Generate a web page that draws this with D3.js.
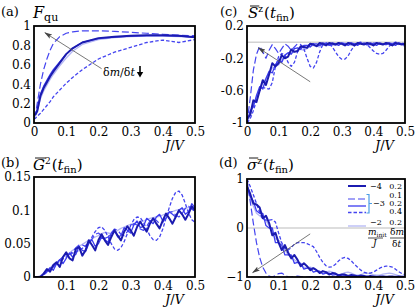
<!DOCTYPE html>
<html>
<head>
<meta charset="utf-8">
<script src="https://cdn.jsdelivr.net/npm/d3@7"></script>
<style>
  body { margin: 0; background: #fff; }
  svg text { font-family: "DejaVu Serif", serif; fill: #000; }
</style>
</head>
<body>
<svg id="chart" width="415" height="308"></svg>
<script>
// J/V grid for panels b, c, d
const jGrid = [0,.01,.02,.03,.04,.05,.06,.07,.08,.09,
  .1,.11,.12,.13,.14,.15,.16,.17,.18,.19,
  .2,.21,.22,.23,.24,.25,.26,.27,.28,.29,
  .3,.31,.32,.33,.34,.35,.36,.37,.38,.39,
  .4,.41,.42,.43,.44,.45,.46,.47,.48,.49,.5]

// panel (a) is smooth, coarser grid
const aJ = [0,.005,.01,.02,.03,.04,.05,.06,.08,.1,.12,.15,.2,.25,.3,.35,.4,.45,.5]
const aThick = [.09,.09,.12,.28,.36,.42,.48,.53,.62,.71,.77,.83,.875,.89,.9,.905,.905,.9,.885]
const aMid   = [.08,.1,.14,.3,.38,.44,.5,.55,.63,.71,.77,.83,.87,.885,.895,.9,.9,.895,.885]
const aLight = [.06,.08,.12,.25,.33,.39,.45,.5,.59,.67,.74,.81,.86,.88,.89,.895,.895,.89,.885]
const aDash  = [.05,.1,.2,.4,.55,.66,.75,.82,.89,.925,.94,.95,.95,.945,.935,.925,.915,.905,.9]
const aDot   = [.04,.05,.07,.1,.14,.18,.22,.27,.34,.41,.47,.55,.66,.73,.78,.83,.855,.83,.86]

// panel (b) G^2
const bThick = [0,0,0,.005,.012,.008,.018,.022,.015,.03,
  .037,.028,.025,.042,.045,.032,.04,.055,.048,.04,
  .055,.064,.055,.048,.06,.07,.062,.055,.068,.076,
  .07,.062,.075,.083,.075,.068,.08,.088,.08,.073,
  .085,.095,.088,.08,.09,.1,.094,.086,.095,.106,.1]
const bMid = [0,0,0,.004,.008,.014,.01,.02,.026,.02,
  .028,.036,.03,.034,.046,.04,.038,.05,.056,.046,
  .05,.06,.056,.052,.066,.07,.06,.062,.074,.07,
  .066,.078,.084,.074,.076,.088,.084,.08,.09,.094,
  .084,.088,.098,.094,.09,.1,.104,.094,.098,.11,.104]
const bLight = [0,0,.002,.006,.01,.014,.018,.022,.026,.03,
  .033,.036,.04,.043,.046,.049,.052,.055,.057,.06,
  .062,.065,.067,.066,.065,.067,.07,.073,.075,.077,
  .079,.08,.082,.083,.084,.086,.088,.089,.09,.091,
  .093,.095,.097,.098,.1,.101,.102,.103,.104,.105,.106]
const bDash = [0,0,.001,.004,.008,.012,.015,.02,.026,.03,
  .032,.034,.038,.044,.048,.048,.046,.05,.057,.064,
  .066,.062,.058,.06,.066,.072,.07,.064,.062,.068,
  .075,.08,.078,.072,.07,.076,.084,.088,.085,.08,
  .082,.09,.097,.098,.093,.09,.095,.103,.106,.102,.098]
const bDot = [0,0,0,.003,.007,.012,.016,.02,.024,.027,
  .03,.033,.036,.038,.04,.043,.047,.052,.06,.068,
  .074,.075,.07,.06,.05,.042,.04,.044,.053,.065,
  .077,.086,.09,.089,.082,.072,.062,.056,.055,.06,
  .072,.088,.104,.118,.127,.129,.123,.11,.096,.086,.082]

// panel (c) S^z
const cThick = [-.95,-.9,-.72,-.74,-.6,-.47,-.53,-.4,-.26,-.3,
  -.26,-.16,-.2,-.18,-.09,-.12,-.11,-.05,-.06,-.07,
  -.02,-.03,-.05,-.01,-.02,-.04,-.01,-.02,-.03,-.01,
  -.02,-.04,-.01,-.02,-.04,-.01,-.02,-.03,-.01,-.02,
  -.04,-.01,-.02,-.03,-.01,-.02,-.04,-.01,-.02,-.03,-.02]
const cMid = [-.98,-.85,-.8,-.66,-.55,-.58,-.45,-.36,-.38,-.28,
  -.22,-.25,-.16,-.13,-.15,-.08,-.07,-.09,-.04,-.04,
  -.06,-.02,-.02,-.04,-.01,-.02,-.04,-.01,-.02,-.04,
  -.01,-.02,-.04,-.01,-.02,-.04,-.01,-.02,-.03,-.01,
  -.02,-.04,-.01,-.02,-.03,-.01,-.02,-.04,-.01,-.02,-.03]
const cLight = [-1,-.9,-.78,-.68,-.6,-.5,-.45,-.38,-.32,-.3,
  -.28,-.22,-.16,-.14,-.14,-.12,-.1,-.09,-.1,-.08,
  -.05,-.04,-.05,-.06,-.04,-.02,-.02,-.03,-.04,-.03,
  -.01,-.01,-.03,-.04,-.03,-.01,-.01,-.02,-.04,-.03,
  -.02,-.01,-.02,-.03,-.03,-.02,-.01,-.02,-.03,-.02,-.02]
const cDash = [-1,-.7,-.35,-.15,-.05,-.12,-.2,-.1,-.03,-.08,
  -.14,-.08,-.02,-.05,-.1,-.06,-.02,-.03,-.07,-.05,
  -.02,-.02,-.05,-.04,-.02,-.01,-.03,-.04,-.02,-.01,
  -.02,-.03,-.01,-.01,-.02,-.03,-.01,-.01,-.02,-.03,
  -.01,-.01,-.02,-.03,-.01,-.01,-.02,-.02,-.01,-.01,-.02]
const cDot = [-1,-.95,-.85,-.72,-.6,-.56,-.57,-.58,-.5,-.3,
  -.18,-.14,-.16,-.25,-.3,-.25,-.12,-.06,-.08,-.2,
  -.3,-.32,-.25,-.12,-.03,-.01,-.02,-.06,-.12,-.18,
  -.21,-.21,-.17,-.1,-.04,-.01,0,-.01,-.03,-.07,
  -.11,-.14,-.15,-.14,-.1,-.05,-.02,0,-.01,-.03,-.05]

// panel (d) sigma^z
const dThick = [.85,.7,.5,.48,.42,.2,.25,.1,-.15,-.1,
  -.3,-.45,-.35,-.5,-.62,-.55,-.65,-.78,-.72,-.78,
  -.86,-.82,-.86,-.92,-.88,-.9,-.95,-.92,-.93,-.97,
  -.95,-.95,-.98,-.96,-.97,-.99,-.97,-.98,-1,-.98,
  -.99,-1,-.99,-.99,-1,-.99,-.99,-1,-.99,-1,-1]
const dMid = [.9,.65,.55,.35,.3,.3,.05,0,0,-.3,
  -.3,-.35,-.55,-.55,-.55,-.72,-.7,-.72,-.84,-.82,
  -.82,-.9,-.88,-.88,-.94,-.92,-.92,-.96,-.95,-.95,
  -.98,-.97,-.97,-.99,-.98,-.98,-.99,-.99,-.98,-1,
  -.99,-.99,-1,-.99,-.99,-1,-1,-.99,-1,-1,-1]
const dLight = [.85,.6,.45,.3,.25,.2,.15,.05,-.1,-.22,
  -.25,-.3,-.45,-.55,-.6,-.65,-.7,-.75,-.8,-.82,
  -.8,-.82,-.86,-.9,-.92,-.9,-.88,-.9,-.93,-.95,
  -.94,-.91,-.9,-.92,-.95,-.96,-.95,-.93,-.92,-.93,
  -.95,-.96,-.96,-.94,-.93,-.92,-.93,-.95,-.97,-.97,-.96]
const dDash = [1,.55,.1,-.3,-.6,-.8,-.92,-.98,-1,-.97,
  -.93,-.92,-.96,-1,-1,-.99,-.98,-.99,-1,-1,
  -.99,-.99,-1,-1,-.99,-1,-1,-1,-.99,-1,
  -1,-1,-.99,-1,-1,-1,-1,-.99,-1,-1,
  -1,-1,-1,-.99,-1,-1,-1,-1,-1,-1,-1]
const dDot = [1,.85,.68,.5,.32,.18,.16,.16,.17,.12,
  -.1,-.3,-.42,-.45,-.4,-.33,-.3,-.3,-.3,-.32,
  -.35,-.38,-.48,-.6,-.7,-.77,-.8,-.79,-.74,-.67,
  -.62,-.6,-.62,-.67,-.74,-.8,-.86,-.9,-.92,-.92,
  -.9,-.86,-.82,-.79,-.78,-.78,-.8,-.84,-.89,-.93,-.95]

// legend entries (m_init/J, dm/dt)
const legendTop = ['\u22124', '0.2']
const legendGroupMinit = '\u22123'
const legendGroupRates = ['0.1', '0.2', '0.4']
const legendBottom = ['\u22122', '0.2']

const styles = {
  thick: { stroke: '#1b1bb0', width: 2, dash: null },
  mid:   { stroke: '#3c3cf0', width: 1.3, dash: null },
  light: { stroke: '#b4b6f4', width: 1.3, dash: null },
  dash:  { stroke: '#4444f0', width: 1.2, dash: '7,3' },
  dot:   { stroke: '#4444f0', width: 1.3, dash: '3.5,2' }
}

const svg = d3.select('#chart')

svg.append('defs').append('marker')
  .attr('id', 'head').attr('viewBox', '0 0 10 6')
  .attr('refX', 9).attr('refY', 3)
  .attr('markerWidth', 8).attr('markerHeight', 5)
  .attr('orient', 'auto').attr('markerUnits', 'userSpaceOnUse')
  .append('path').attr('d', 'M0,0 L10,3 L0,6 L2,3 Z').attr('fill', '#444')

function richText (g, x, y, parts) {
  let cx = x
  parts.forEach(p => {
    const t = g.append('text')
      .attr('x', cx).attr('y', y + (p.dy || 0))
      .attr('font-size', p.size)
      .attr('font-style', p.italic ? 'italic' : 'normal')
      .text(p.t)
    const w = t.node().getComputedTextLength()
    if (p.over) {
      g.append('line')
        .attr('x1', cx + 2).attr('x2', cx + w + 1)
        .attr('y1', y - p.size * 0.8).attr('y2', y - p.size * 0.8)
        .attr('stroke', '#000').attr('stroke-width', 0.9)
    }
    cx += w + (p.gap || 0)
  })
}

let clipId = 0

function panel (o) {
  const x = d3.scaleLinear().domain([0, 0.5]).range([o.left, o.right])
  const y = d3.scaleLinear().domain(o.yDomain).range([o.bottom, o.top])
  const g = svg.append('g')

  const id = 'clip' + (clipId++)
  svg.select('defs').append('clipPath').attr('id', id)
    .append('rect').attr('x', o.left).attr('y', o.top)
    .attr('width', o.right - o.left).attr('height', o.bottom - o.top)

  const plot = g.append('g').attr('clip-path', 'url(#' + id + ')')

  if (o.zeroLine) {
    plot.append('line')
      .attr('x1', o.left).attr('x2', o.right)
      .attr('y1', y(0)).attr('y2', y(0))
      .attr('stroke', '#bbb').attr('stroke-width', 1)
  }

  const line = d3.line().x(d => x(d[0])).y(d => y(d[1]))
  o.series.forEach(s => {
    const st = styles[s.style]
    plot.append('path')
      .datum(s.xs.map((j, i) => [j, s.vals[i]]))
      .attr('d', line)
      .attr('fill', 'none')
      .attr('stroke', st.stroke)
      .attr('stroke-width', st.width)
      .attr('stroke-dasharray', st.dash)
      .attr('stroke-linejoin', 'round')
  })

  if (o.arrow) {
    g.append('line')
      .attr('x1', x(o.arrow[0][0])).attr('y1', y(o.arrow[0][1]))
      .attr('x2', x(o.arrow[1][0])).attr('y2', y(o.arrow[1][1]))
      .attr('stroke', '#555').attr('stroke-width', 0.8)
      .attr('marker-end', 'url(#head)')
  }

  g.append('rect')
    .attr('x', o.left).attr('y', o.top)
    .attr('width', o.right - o.left).attr('height', o.bottom - o.top)
    .attr('fill', 'none').attr('stroke', '#000').attr('stroke-width', 1.8)

  const ya = g.append('g').attr('transform', 'translate(' + o.left + ',0)')
    .call(d3.axisLeft(y).tickValues(o.yTicks).tickSize(0).tickPadding(3)
      .tickFormat(o.yFmt))
  const xa = g.append('g').attr('transform', 'translate(0,' + o.bottom + ')')
    .call(d3.axisBottom(x).tickValues(o.xTicks).tickSize(0).tickPadding(4)
      .tickFormat(d => d === 0 ? '0' : String(d)))
  ;[ya, xa].forEach(a => {
    a.select('.domain').remove()
    a.selectAll('text').attr('font-family', '"DejaVu Serif", serif')
      .attr('font-size', 12).attr('fill', '#000')
  })

  richText(g, o.right - 30, o.bottom + 26.5, [
    { t: 'J', italic: true, size: 13 },
    { t: '/', size: 13 },
    { t: 'V', italic: true, size: 13 }
  ])

  return { x, y, g }
}

// (a)
panel({
  left: 34, right: 195, top: 26, bottom: 123,
  yDomain: [0, 1], yTicks: [0, .2, .4, .6, .8, 1],
  yFmt: d => d === 0 ? '0' : d === 1 ? '1' : String(d),
  xTicks: [0, .1, .2, .3, .4, .5],
  series: [
    { xs: aJ, vals: aLight, style: 'light' },
    { xs: aJ, vals: aDash, style: 'dash' },
    { xs: aJ, vals: aDot, style: 'dot' },
    { xs: aJ, vals: aMid, style: 'mid' },
    { xs: aJ, vals: aThick, style: 'thick' }
  ],
  arrow: [[0.21, 0.56], [0.034, 0.93]]
})

// (c)
panel({
  left: 247, right: 405, top: 26, bottom: 123,
  yDomain: [-1, 0.2], yTicks: [.2, -.2, -.6, -1],
  yFmt: d => d === -1 ? '-1' : String(d),
  xTicks: [0, .1, .2, .3, .4, .5],
  zeroLine: true,
  series: [
    { xs: jGrid, vals: cLight, style: 'light' },
    { xs: jGrid, vals: cDash, style: 'dash' },
    { xs: jGrid, vals: cDot, style: 'dot' },
    { xs: jGrid, vals: cMid, style: 'mid' },
    { xs: jGrid, vals: cThick, style: 'thick' }
  ],
  arrow: [[0.2, -0.49], [0.036, -0.07]]
})

// (b)
panel({
  left: 34, right: 195, top: 177, bottom: 277,
  yDomain: [0, 0.15], yTicks: [0, .05, .1, .15],
  yFmt: d => d === 0 ? '0' : String(d),
  xTicks: [.1, .2, .3, .4, .5],
  series: [
    { xs: jGrid, vals: bLight, style: 'light' },
    { xs: jGrid, vals: bDash, style: 'dash' },
    { xs: jGrid, vals: bDot, style: 'dot' },
    { xs: jGrid, vals: bMid, style: 'mid' },
    { xs: jGrid, vals: bThick, style: 'thick' }
  ]
})

// (d)
panel({
  left: 247, right: 405, top: 179, bottom: 277,
  yDomain: [-1, 1], yTicks: [1, 0, -1],
  yFmt: d => d === -1 ? '\u22121' : String(d),
  xTicks: [0, .1, .2, .3, .4, .5],
  zeroLine: true,
  series: [
    { xs: jGrid, vals: dLight, style: 'light' },
    { xs: jGrid, vals: dDash, style: 'dash' },
    { xs: jGrid, vals: dDot, style: 'dot' },
    { xs: jGrid, vals: dMid, style: 'mid' },
    { xs: jGrid, vals: dThick, style: 'thick' }
  ],
  arrow: [[0.2, -0.12], [0.018, -0.91]]
})

// panel titles
svg.append('text').attr('x', 1).attr('y', 16).attr('font-size', 13).text('(a)')
svg.append('text').attr('x', 220).attr('y', 16).attr('font-size', 13).text('(c)')
svg.append('text').attr('x', 1).attr('y', 167).attr('font-size', 13).text('(b)')
svg.append('text').attr('x', 219).attr('y', 167).attr('font-size', 13).text('(d)')

richText(svg, 33, 18, [
  { t: 'F', italic: true, size: 16 },
  { t: 'qu', size: 11, dy: 3 }
])
richText(svg, 248, 18, [
  { t: 'S', italic: true, size: 15, over: true },
  { t: 'z', size: 9, dy: -6, gap: 1 },
  { t: '(', size: 15 },
  { t: 't', italic: true, size: 15 },
  { t: 'fin', size: 10, dy: 3 },
  { t: ')', size: 15 }
])
richText(svg, 33, 170, [
  { t: 'G', italic: true, size: 15, over: true },
  { t: '2', size: 9, dy: -6, gap: 1 },
  { t: '(', size: 15 },
  { t: 't', italic: true, size: 15 },
  { t: 'fin', size: 10, dy: 3 },
  { t: ')', size: 15 }
])
richText(svg, 247, 170, [
  { t: '\u03c3', italic: true, size: 15, over: true },
  { t: 'z', size: 9, dy: -6, gap: 1 },
  { t: '(', size: 15 },
  { t: 't', italic: true, size: 15 },
  { t: 'fin', size: 10, dy: 3 },
  { t: ')', size: 15 }
])

// (a) annotation: dm/dt with down arrow
richText(svg, 103, 76, [
  { t: '\u03b4', size: 11 },
  { t: 'm', italic: true, size: 11 },
  { t: '/', size: 11 },
  { t: '\u03b4', size: 11 },
  { t: 't', italic: true, size: 11 }
])
svg.append('line').attr('x1', 140).attr('x2', 140).attr('y1', 66).attr('y2', 73)
  .attr('stroke', '#000').attr('stroke-width', 1.6)
svg.append('path').attr('d', 'M136.8,72 L143.2,72 L140,77.5 Z').attr('fill', '#000')

// (d) legend
const lg = svg.append('g')
const fs = 8
const sample = (yy, s) => {
  const st = styles[s]
  lg.append('line')
    .attr('x1', 348).attr('x2', 366).attr('y1', yy).attr('y2', yy)
    .attr('stroke', st.stroke).attr('stroke-width', st.width)
    .attr('stroke-dasharray', st.dash)
}

sample(186, 'thick')
lg.append('text').attr('x', 370).attr('y', 188.5).attr('font-size', fs).text(legendTop[0])
lg.append('text').attr('x', 402).attr('y', 188.5).attr('text-anchor', 'end')
  .attr('font-size', fs).text(legendTop[1])

sample(199, 'dash')
sample(206, 'mid')
sample(212.5, 'dot')
lg.append('text').attr('x', 373).attr('y', 206).attr('font-size', fs).text(legendGroupMinit)
lg.append('text').attr('text-anchor', 'end').attr('font-size', fs)
  .selectAll('tspan').data(legendGroupRates).join('tspan')
  .attr('x', 402).attr('y', (d, i) => 198 + i * 8).text(d => d)
lg.append('path')
  .attr('d', 'M366.5,194.5 H369 V213 H366.5 M369,203.5 H372')
  .attr('fill', 'none').attr('stroke', '#4a9de6').attr('stroke-width', 1.2)

sample(226, 'light')
lg.append('text').attr('x', 370).attr('y', 225).attr('font-size', fs).text(legendBottom[0])
lg.append('text').attr('x', 402).attr('y', 225).attr('text-anchor', 'end')
  .attr('font-size', fs).text(legendBottom[1])

// fraction labels m_init/J and dm/dt
richText(lg, 368, 235, [
  { t: 'm', italic: true, size: 9 },
  { t: 'init', size: 6, dy: 2 }
])
lg.append('line').attr('x1', 368).attr('x2', 383).attr('y1', 238).attr('y2', 238)
  .attr('stroke', '#000').attr('stroke-width', 0.7)
richText(lg, 373, 246, [{ t: 'J', italic: true, size: 9 }])
richText(lg, 390, 235, [
  { t: '\u03b4', size: 9 },
  { t: 'm', italic: true, size: 9 }
])
lg.append('line').attr('x1', 390).attr('x2', 404).attr('y1', 238).attr('y2', 238)
  .attr('stroke', '#000').attr('stroke-width', 0.7)
richText(lg, 392, 246.5, [
  { t: '\u03b4', size: 9 },
  { t: 't', italic: true, size: 9 }
])
</script>
</body>
</html>
